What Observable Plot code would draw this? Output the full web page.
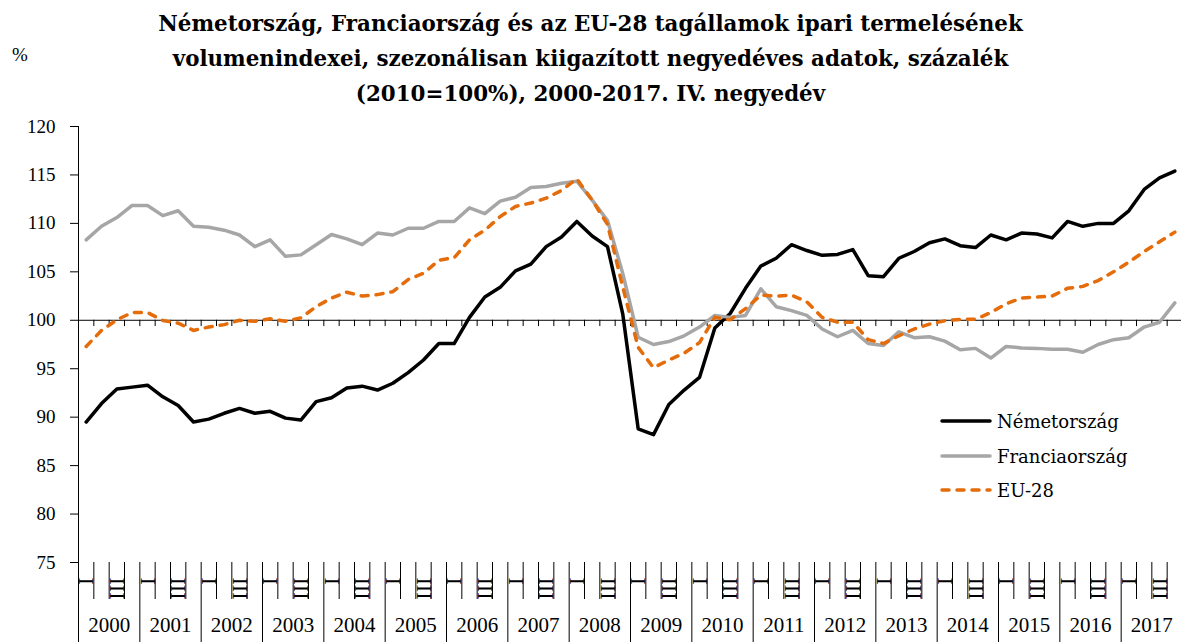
<!DOCTYPE html>
<html><head><meta charset="utf-8">
<script src="https://cdn.jsdelivr.net/npm/d3@7"></script>
<script src="https://cdn.jsdelivr.net/npm/@observablehq/plot@0.6"></script>
<style>
body{margin:0;background:#fff;}
#wrap{position:relative;width:1181px;height:642px;overflow:hidden;background:#fff;}
#title{position:absolute;left:0;top:6px;width:1181px;text-align:center;font-family:"DejaVu Serif",serif;font-weight:bold;font-size:21.4px;line-height:35px;color:#000;}
#pct{position:absolute;left:12px;top:44px;font-family:"Liberation Serif",serif;font-size:19px;color:#000;}
.leg{position:absolute;left:940px;height:30px;display:flex;align-items:center;font-family:"DejaVu Serif",serif;font-size:18px;color:#000;}
.leg svg{margin-right:5px;}
#chart{position:absolute;left:0;top:0;}
</style>
</head><body>
<div id="wrap">
<div id="chart"></div>
<div id="title">Németország, Franciaország és az EU-28 tagállamok ipari termelésének<br>volumenindexei, szezonálisan kiigazított negyedéves adatok, százalék<br>(2010=100%), 2000-2017. IV. negyedév</div>
<div id="pct">%</div>
<div id="legend"></div>
</div>
<script>
const years = [2000,2001,2002,2003,2004,2005,2006,2007,2008,2009,2010,2011,2012,2013,2014,2015,2016,2017];
const quarterLabels = ["I","II","III","IV"];
const yTicks = [75,80,85,90,95,100,105,110,115,120];
const seriesNames = ["Németország","Franciaország","EU-28"];

const germany = [89.5,91.4,92.9,93.1,93.3,92.1,91.2,89.5,89.8,90.4,90.9,90.4,90.6,89.9,89.7,91.6,92.0,93.0,93.2,92.8,93.5,94.6,95.9,97.6,
97.6,100.3,102.4,103.4,105.1,105.8,107.6,108.6,110.2,108.7,107.6,100.6,88.8,88.2,91.3,92.8,94.1,99.2,100.7,103.3,105.6,106.4,107.8,107.2,
106.7,106.8,107.3,104.6,104.5,106.4,107.1,108.0,108.4,107.7,107.5,108.8,108.3,109.0,108.9,108.5,110.2,109.7,110.0,110.0,111.3,113.5,114.7,115.4];
const france = [108.3,109.7,110.6,111.85,111.85,110.8,111.3,109.7,109.6,109.3,108.8,107.6,108.3,106.6,106.75,107.8,108.85,108.4,107.8,109.0,108.8,109.5,109.5,110.2,
110.2,111.6,111.0,112.3,112.7,113.7,113.8,114.15,114.35,112.4,110.3,104.8,98.25,97.5,97.8,98.4,99.3,100.5,100.3,100.5,103.25,101.4,101.0,100.5,
99.1,98.3,98.95,97.6,97.4,98.8,98.2,98.3,97.85,96.95,97.1,96.1,97.3,97.15,97.1,97.0,97.0,96.7,97.5,98.0,98.2,99.3,99.8,101.8];
const eu28 = [97.3,98.95,100.05,100.8,100.8,99.98,99.7,98.95,99.3,99.55,100.0,99.9,100.15,99.9,100.25,101.4,102.3,102.9,102.5,102.65,102.95,104.2,104.85,106.2,
106.45,108.3,109.3,110.7,111.75,112.1,112.6,113.4,114.6,112.4,109.9,103.4,97.2,95.1,95.9,96.6,97.7,100.3,100.05,101.2,102.6,102.5,102.6,101.9,
100.3,99.8,99.8,98.0,97.6,98.4,99.1,99.6,99.95,100.1,100.1,100.8,101.7,102.3,102.4,102.5,103.3,103.5,104.1,105.0,106.0,107.1,108.1,109.1];

const colors = ["#000000","#a6a6a6","#e46c0a"];
const dashes = [null,null,"7,8"];
const seriesValues = [germany, france, eu28];

const nQ = years.length * quarterLabels.length;
const boundaries = d3.range(0, nQ + 1);
const yearBounds = boundaries.filter(b => b % 4 === 0);
const quarterBounds = boundaries.filter(b => b % 4 !== 0);
const qLabels = [];
years.forEach((y, yi) => quarterLabels.forEach((q, qi) => { if (qi % 2 === 0) qLabels.push({pos: yi * 4 + qi + 0.5, label: q}); }));

const lineMarks = seriesValues.map((vals, s) => Plot.line(vals.map((v, i) => ({i, v})), {
  x: d => d.i + 0.5, y: "v", stroke: colors[s], strokeWidth: 3.5,
  strokeLinejoin: "round", strokeLinecap: "round", strokeDasharray: dashes[s] || undefined
}));

const chart = Plot.plot({
  width: 1181, height: 642,
  marginTop: 126, marginBottom: 80, marginLeft: 78, marginRight: 0,
  x: {domain: [0, nQ], range: [78, 1182], axis: null, label: null},
  y: {domain: [75, 120], range: [562, 126], axis: null, label: null},
  style: {fontFamily: "Liberation Serif", fontSize: "19px", color: "#000", background: "#fff", overflow: "visible"},
  marks: [
    Plot.axisY({ticks: yTicks, tickSize: 8, tickPadding: 15, tickFormat: d => String(d), fontSize: 19, label: null}),
    Plot.ruleX([0], {stroke: "#000"}),
    Plot.axisX({ticks: yearBounds, tickSize: 80, tickFormat: () => "", label: null, stroke: "#000"}),
    Plot.axisX({ticks: quarterBounds, tickSize: 37, tickFormat: () => "", label: null, stroke: "#000"}),
    Plot.ruleY([100], {stroke: "#000"}),
    Plot.ruleX(boundaries.slice(1), {x: d => d, y1: 100, y2: 99.35, stroke: "#000"}),
    Plot.text(qLabels, {x: "pos", text: "label", frameAnchor: "bottom", dx: -7, dy: 15, rotate: 90, textAnchor: "start", fontSize: 22}),
    Plot.text(years, {x: (d, i) => i * 4 + 2, text: d => String(d), frameAnchor: "bottom", dy: 69, fontSize: 21}),
    ...lineMarks
  ]
});
document.getElementById("chart").appendChild(chart);

const legend = document.getElementById("legend");
const legTops = [406, 441, 475];
seriesNames.forEach((name, s) => {
  const row = document.createElement("div");
  row.className = "leg";
  row.style.top = legTops[s] + "px";
  row.innerHTML = `<svg width="52" height="10"><line x1="2" y1="5" x2="50" y2="5" stroke="${colors[s]}" stroke-width="3.5" stroke-linecap="round" ${dashes[s] ? `stroke-dasharray="${dashes[s]}"` : ""}/></svg><span>${name}</span>`;
  legend.appendChild(row);
});
</script>
</body></html>
